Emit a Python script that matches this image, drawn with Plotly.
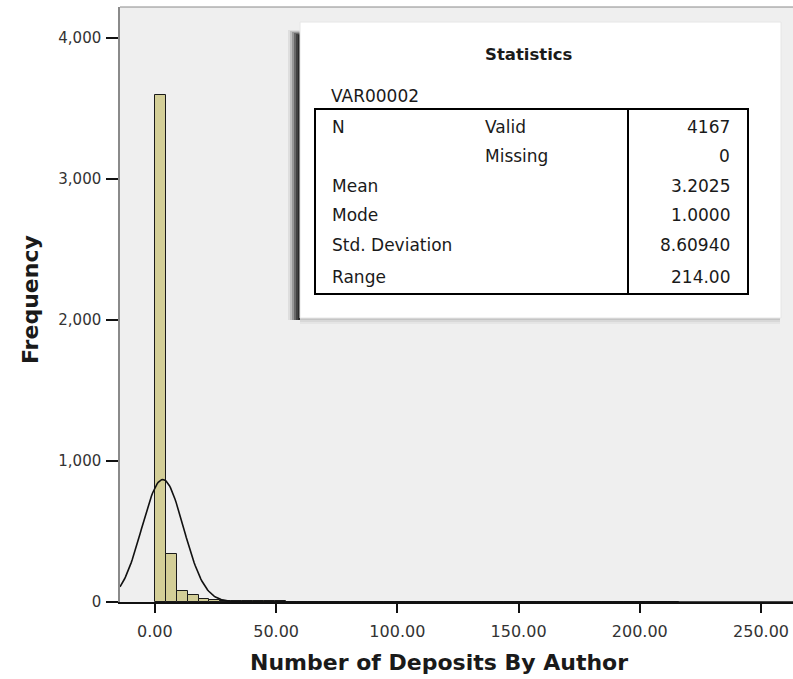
import numpy as np
import plotly.graph_objects as go

# ---------------- data ----------------
bin_start = 0.0
bin_width = 4.5
counts = [3599, 340, 78, 50, 21,
          14, 10, 8, 6, 5, 4, 4, 3, 2, 3, 2, 2, 1, 2, 1, 1, 1, 0, 1, 1,
          1, 0, 1, 0, 1, 0, 0, 1, 0, 1, 0, 0, 1, 0, 0, 0, 0, 1, 0, 0,
          0, 0, 1]
stat_n_valid = 4167
stat_n_missing = 0
stat_mean = 3.2025
stat_mode = 1.0
stat_sd = 8.60940
stat_range = 214.00

x_tick_vals = [0, 50, 100, 150, 200, 250]
x_tick_text = ["0.00", "50.00", "100.00", "150.00", "200.00", "250.00"]
y_tick_vals = [0, 1000, 2000, 3000, 4000]
y_tick_text = ["0", "1,000", "2,000", "3,000", "4,000"]

stat_labels = ["N", "", "Mean", "Mode", "Std. Deviation", "Range"]
stat_sublabels = ["Valid", "Missing", "", "", "", ""]
stat_values = [f"{stat_n_valid}", f"{stat_n_missing}", f"{stat_mean:.4f}",
               f"{stat_mode:.4f}", f"{stat_sd:.5f}", f"{stat_range:.2f}"]

# ---------------- layout geometry ----------------
W, H = 793, 679
L, T, B = 120, 7, 77
R = 0
PW = W - L - R
PH = H - T - B
X_RANGE = [-14.4, 263.2]
Y_RANGE = [0, 4220]

def px(xpix):
    return (xpix - L) / PW

def py(ypix):
    return (H - B - ypix) / PH

FONT = "DejaVu Sans, Verdana, sans-serif"

centers = [bin_start + bin_width * (i + 0.5) for i in range(len(counts))]

fig = go.Figure()
fig.add_trace(go.Bar(
    x=centers, y=counts, width=bin_width,
    marker=dict(color="#d3ce97", line=dict(color="#1a1a1a", width=1)),
    hoverinfo="x+y", showlegend=False,
))

# fitted normal curve (from the statistics shown in the table)
xc = np.linspace(X_RANGE[0], X_RANGE[1], 600)
yc = stat_n_valid * bin_width / (stat_sd * np.sqrt(2 * np.pi)) * np.exp(-0.5 * ((xc - stat_mean) / stat_sd) ** 2)
fig.add_trace(go.Scatter(x=xc, y=yc, mode="lines",
                         line=dict(color="#111111", width=1.6),
                         showlegend=False, hoverinfo="skip"))

shapes = []
# statistics box shadow (soft), darker near the box
for i, op in enumerate([0.08, 0.15, 0.25, 0.38, 0.52, 0.65]):
    off = 12 - i * 2
    shapes.append(dict(type="rect", xref="paper", yref="paper",
                       x0=px(300 - off), x1=px(300), y0=py(320), y1=py(30 + i),
                       fillcolor=f"rgba(30,30,30,{op})", line=dict(width=0), layer="above"))
for i, op in enumerate([0.05, 0.08, 0.12]):
    off = 6 - i * 2
    shapes.append(dict(type="rect", xref="paper", yref="paper",
                       x0=px(300), x1=px(780), y0=py(318 + off), y1=py(318),
                       fillcolor=f"rgba(60,60,60,{op})", line=dict(width=0), layer="above"))
# white box
shapes.append(dict(type="rect", xref="paper", yref="paper",
                   x0=px(300), x1=px(781), y0=py(318), y1=py(22),
                   fillcolor="white", line=dict(color="#e6e6e6", width=1), layer="above"))
# table border
shapes.append(dict(type="rect", xref="paper", yref="paper",
                   x0=px(315), x1=px(748), y0=py(294), y1=py(109),
                   fillcolor="rgba(0,0,0,0)", line=dict(color="black", width=2), layer="above"))
shapes.append(dict(type="line", xref="paper", yref="paper",
                   x0=px(628), x1=px(628), y0=py(294), y1=py(109),
                   line=dict(color="black", width=2), layer="above"))
# top frame line of the plot area
shapes.append(dict(type="line", xref="paper", yref="paper",
                   x0=0, x1=1, y0=1, y1=1,
                   line=dict(color="#8a8a8a", width=1), layer="above"))

annotations = []
def ann(text, xpix, ypix, xanchor="left", size=17, bold=False, color="#1a1a1a"):
    annotations.append(dict(
        text=f"<b>{text}</b>" if bold else text,
        xref="paper", yref="paper", x=px(xpix), y=py(ypix),
        xanchor=xanchor, yanchor="middle", showarrow=False,
        font=dict(family=FONT, size=size, color=color)))

ann("Statistics", 529, 54, xanchor="center", size=16.5, bold=True)
ann("VAR00002", 329, 96, size=17)
row_y = [127, 156, 186, 215, 245, 277]
for lab, sub, val, yy in zip(stat_labels, stat_sublabels, stat_values, row_y):
    if lab:
        ann(lab, 330, yy, size=17)
    if sub:
        ann(sub, 483, yy, size=17)
    ann(val, 732, yy, xanchor="right", size=17)

# axis titles
ann("Number of Deposits By Author", 439, 662, xanchor="center", size=22, bold=True)
annotations.append(dict(text="<b>Frequency</b>", xref="paper", yref="paper",
                        x=px(30), y=py(300), xanchor="center", yanchor="middle",
                        textangle=-90, showarrow=False,
                        font=dict(family=FONT, size=22, color="#1a1a1a")))

fig.update_layout(
    width=W, height=H,
    margin=dict(l=L, r=R, t=T, b=B, pad=0),
    paper_bgcolor="white", plot_bgcolor="#efefef",
    bargap=0, showlegend=False,
    shapes=shapes, annotations=annotations,
    font=dict(family=FONT, size=14, color="#333333"),
    xaxis=dict(range=X_RANGE, tickmode="array", tickvals=x_tick_vals, ticktext=x_tick_text,
               showgrid=False, zeroline=False, showline=True, linecolor="#111111", linewidth=1.5,
               ticks="outside", ticklen=9, tickwidth=1.5, tickcolor="#111111",
               ticklabelstandoff=5,
               tickfont=dict(family=FONT, size=16, color="#333333")),
    yaxis=dict(range=Y_RANGE, tickmode="array", tickvals=y_tick_vals, ticktext=y_tick_text,
               showgrid=False, zeroline=False, showline=True, linecolor="#8a8a8a", linewidth=1.5,
               ticks="outside", ticklen=12, tickwidth=1.5, tickcolor="#111111",
               ticklabelstandoff=2,
               tickfont=dict(family=FONT, size=15, color="#333333")),
)

fig.write_html("out.html")
